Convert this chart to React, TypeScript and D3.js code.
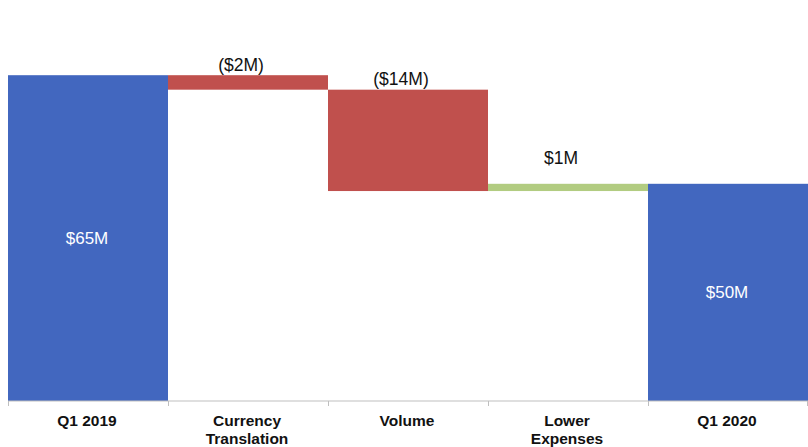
import React from "react";
import * as d3 from "d3";

const categories = ["Q1 2019", "Currency Translation", "Volume", "Lower Expenses", "Q1 2020"];
const deltas = [65, -2, -14, 1, 50];
const kinds = ["total", "delta", "delta", "delta", "total"];
const labels = ["$65M", "($2M)", "($14M)", "$1M", "$50M"];
const categoryLines = [["Q1 2019"], ["Currency", "Translation"], ["Volume"], ["Lower", "Expenses"], ["Q1 2020"]];

const W = 808, H = 447;
const left = 8, right = 808, top = 39, bottom = 401;

export default function App() {
  const x = d3.scaleBand<string>().domain(categories).range([left, right]).padding(0);
  const y = d3.scaleLinear().domain([20, 70]).range([bottom, top]);

  let running = 0;
  const bars = categories.map((c, i) => {
    let y0: number, y1: number;
    if (kinds[i] === "total") {
      y0 = 20; y1 = deltas[i]; running = deltas[i];
    } else {
      y0 = running; y1 = running + deltas[i]; running = y1;
    }
    const lo = Math.min(y0, y1), hi = Math.max(y0, y1);
    const color = kinds[i] === "total" ? "#4267BF" : deltas[i] < 0 ? "#C0504D" : "#B2CC81";
    return { c, i, lo, hi, color };
  });

  return (
    <svg width={W} height={H} style={{ position: "absolute", left: 0, top: 0 }} fontFamily="Liberation Sans, Arial, sans-serif">
      {bars.map((b) => (
        <rect key={b.c} x={x(b.c)!} width={x.bandwidth()} y={y(b.hi)} height={y(b.lo) - y(b.hi)} fill={b.color} />
      ))}
      {bars.map((b) => {
        const cx = x(b.c)! + x.bandwidth() / 2;
        if (kinds[b.i] === "total") {
          const cy = (y(b.hi) + y(b.lo)) / 2;
          return (
            <text key={"l" + b.c} x={cx - 1} y={cy} dy="0.35em" textAnchor="middle" fill="#fff" fontSize={17}>{labels[b.i]}</text>
          );
        }
        const off = deltas[b.i] < 0 ? 4.5 : 20;
        return (
          <text key={"l" + b.c} x={cx - 7} y={y(b.hi) - off} textAnchor="middle" fill="#111" fontSize={17.5}>{labels[b.i]}</text>
        );
      })}
      <line x1={left} x2={right} y1={bottom} y2={bottom} stroke="#bfbfbf" strokeWidth={1} />
      {categories.map((c) => (
        <line key={"t" + c} x1={Math.round(x(c)!) + 0.5} x2={Math.round(x(c)!) + 0.5} y1={bottom} y2={bottom + 5} stroke="#bfbfbf" />
      ))}
      <line x1={right - 0.5} x2={right - 0.5} y1={bottom} y2={bottom + 5} stroke="#bfbfbf" />
      {categoryLines.map((lines, i) => (
        <text key={"c" + i} x={x(categories[i])! + x.bandwidth() / 2} y={426} textAnchor="middle" fontSize={15.5} fontWeight="bold" fill="#111">
          {lines.map((l, j) => (
            <tspan key={j} x={x(categories[i])! + x.bandwidth() / 2 - 1} dy={j === 0 ? 0 : 18}>{l}</tspan>
          ))}
        </text>
      ))}
    </svg>
  );
}
